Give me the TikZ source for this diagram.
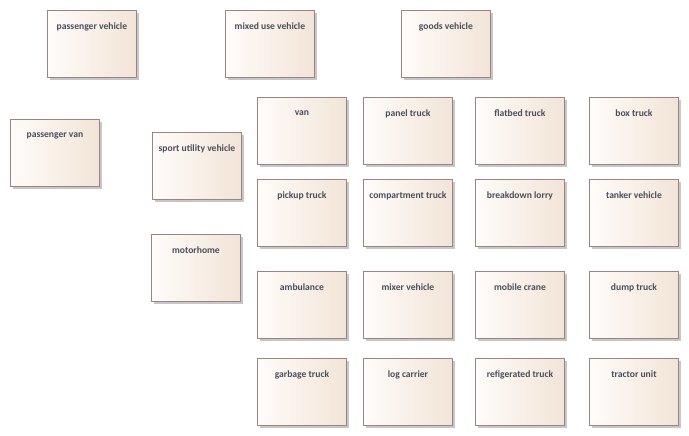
\documentclass[tikz,border=0pt]{standalone}
\usepackage{fontspec}
\setmainfont{Carlito}
\usetikzlibrary{shadows}
\definecolor{boxline}{HTML}{9A8484}
\definecolor{boxleft}{HTML}{FFFCFA}
\definecolor{boxright}{HTML}{F2E4D7}
\definecolor{boxtext}{HTML}{4A4E5C}
\tikzset{
  blockbox/.style={draw=boxline, line width=0.9pt, left color=boxleft, right color=boxright,
    minimum width=89pt, minimum height=67pt, inner sep=0pt, anchor=north west,
    drop shadow={shadow xshift=2.5pt, shadow yshift=-2.5pt, fill=black!22, opacity=1}},
  blocktext/.style={text=boxtext, font=\bfseries\fontsize{9.6}{12}\selectfont, inner sep=0pt}
}
\newcommand\block[4]{%
  \node[blockbox] (#1) at (#2,#3) {};
  \node[blocktext] (#1-t) at ([yshift=-16.5pt]#1.north) {#4};}

\begin{document}
\begin{tikzpicture}[x=1pt,y=-1pt]
			%%%%% START %%%%%
			\useasboundingbox (0,0) rectangle (689,436);
			
			\block{pv}{47}{10}{passenger vehicle}
			\block{muv}{225}{10}{mixed use vehicle}
			\block{gv}{401}{10}{goods vehicle}
			
			\block{pvan}{10}{119}{passenger van}
			\block{suv}{152}{132}{sport utility vehicle}
			\block{mh}{151}{234}{motorhome}
			
			\block{van}{257}{97}{van}
			\block{panel}{363}{97}{panel truck}
			\block{flatbed}{475}{97}{flatbed truck}
			\block{box}{589}{97}{box truck}
			
			\block{pickup}{257}{179}{pickup truck}
			\block{compart}{363}{179}{compartment truck}
			\block{breakdown}{475}{179}{breakdown lorry}
			\block{tanker}{589}{179}{tanker vehicle}
			
			\block{amb}{257}{271}{ambulance}
			\block{mixer}{363}{271}{mixer vehicle}
			\block{crane}{475}{271}{mobile crane}
			\block{dump}{589}{271}{dump truck}
			
			\block{garbage}{257}{358}{garbage truck}
			\block{log}{363}{358}{log carrier}
			\block{refrig}{475}{358}{refigerated truck}
			\block{tractor}{589}{358}{tractor unit}
			
			%%%%% END %%%%%
\end{tikzpicture}
\end{document}
